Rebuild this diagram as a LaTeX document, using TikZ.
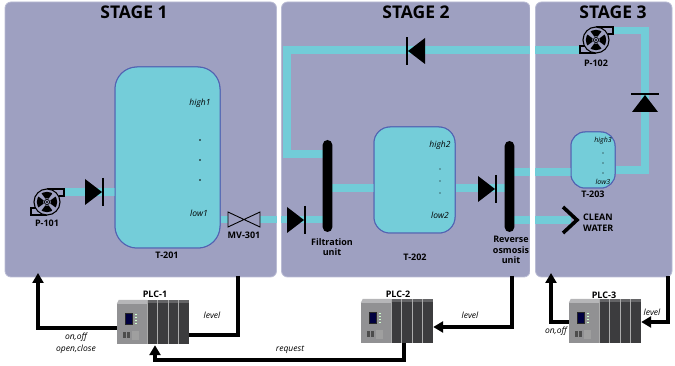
\documentclass[tikz,border=0pt]{standalone}
\usepackage{fontspec}
\setmainfont{Open Sans}
\usetikzlibrary{arrows.meta,calc}

\definecolor{panel}{RGB}{158,160,193}
\definecolor{panelrim}{RGB}{186,188,212}
\definecolor{pipec}{RGB}{114,204,216}
\definecolor{tankfill}{RGB}{116,205,217}
\definecolor{tankrim}{RGB}{82,98,178}
\definecolor{plclight}{RGB}{145,145,147}
\definecolor{plctop}{RGB}{182,182,184}
\definecolor{plcdark}{RGB}{60,60,62}
\definecolor{plcdarktop}{RGB}{100,100,102}

\tikzset{
  stagebox/.style={fill=panel, draw=panelrim, line width=0.8, rounded corners=6},
  pipe/.style={draw=pipec, line width=7.5},
  tank/.style={draw=tankrim, fill=tankfill, line width=1, inner sep=0},
  membrane/.style={fill=black, rounded corners=4.8, minimum width=9.6, inner sep=0},
  sig/.style={line width=3.6, black, -{Triangle[length=10,width=11]}},
  sigplain/.style={line width=3.6, black},
  tag/.style={font=\bfseries\fontsize{9}{10.5}\selectfont, inner sep=0, align=center},
  lvl/.style={font=\itshape\fontsize{8.5}{12}\selectfont, inner sep=0, align=center},
  small/.style={font=\itshape\fontsize{7}{8}\selectfont, inner sep=0},
  head/.style={font=\bfseries\fontsize{17.5}{19}\selectfont, inner sep=0},
  plcbox/.style={minimum width=72, minimum height=44, inner sep=0},
  % check valve: flow along +x, bar on the downstream side
  checkv/.pic={
    \fill[black] (-9,-13) -- (-9,13) -- (8,0) -- cycle;
    \draw[black, line width=2] (9,-14) -- (9,14);
  },
  % centrifugal pump: outlet top right, base bottom left
  pump/.pic={
    \draw[black, line width=1.1, fill=panel] (0,-13) -- (17,-13) -- (17,-6) -- (11.5,-6);
    \draw[black, line width=1.1, fill=panel] (-11.5,6) -- (-16,6) -- (-16,13) -- (0,13);
    \draw[black, line width=1.1, fill=panel] (0,0) circle (13);
    \begin{scope}
      \clip (0,0) circle (10.2);
      \foreach \a in {0,90,180,270}
        \fill[black] (\a-18:2.5) -- (\a-34:14) -- (\a+34:14) -- (\a+18:2.5) -- cycle;
    \end{scope}
    \fill[panel] (0,0) circle (3.8);
    \draw[black, line width=0.8] (0,0) circle (2.6);
    \fill[black] (0,0) circle (1.1);
  },
  % PLC rack: origin at the top left corner
  plc/.pic={
    \fill[plclight] (0,4) rectangle (30,44);
    \fill[plctop] (2,0) -- (30,0) -- (30,4) -- (0,4) -- cycle;
    \fill[black!85] (8,13) rectangle (16,25);
    \fill[blue!25!black] (9,14) rectangle (15,24);
    \foreach \yy in {14,17,20,23}
      \fill[green!20!white] (18.5,\yy) rectangle (20.5,\yy+1.5);
    \fill[black!70] (6,32) rectangle (9,38);
    \fill[black!70] (10,32) rectangle (13,38);
    \fill[gray!75] (15,31) rectangle (22,40);
    \foreach \i in {0,...,3} {
      \fill[plcdark] (30+\i*10.5,3) rectangle (40.5+\i*10.5,44);
      \fill[plcdarktop] (30+\i*10.5,0) rectangle (40.5+\i*10.5,3);
      \draw[gray!65, line width=0.6] (30+\i*10.5,0) -- (30+\i*10.5,44);
    }
  }
}

\begin{document}
\begin{tikzpicture}[x=1pt, y=-1pt]
\useasboundingbox (0,0) rectangle (675,366);

% stage panels
\draw[stagebox] (5,2) rectangle (276.5,277);
\draw[stagebox] (281.5,2) rectangle (530,277);
\draw[stagebox] (535.5,2) rectangle (672,277);
\node[head] (h1) at (134,12.5) {STAGE 1};
\node[head] (h2) at (416,12.5) {STAGE 2};
\node[head] (h3) at (613,12.5) {STAGE 3};

% equipment anchors
\node[tank, rounded corners=22, minimum width=105, minimum height=181] (T201) at (167.5,157.5) {};
\node[tank, rounded corners=16, minimum width=81, minimum height=106] (T202) at (414.5,180) {};
\node[tank, rounded corners=14, minimum width=44, minimum height=56] (T203) at (593,160) {};
\coordinate (P101) at (47,202);
\coordinate (P101out) at (63,192);
\coordinate (P102) at (596,40);
\coordinate (P102out) at (612,30.5);
\coordinate (P102in) at (581,50);
\coordinate (MV301) at (244,219.5);
\coordinate (loopTop) at (287,50);
\coordinate (loopBot) at (287,154);
\coordinate (riser) at (645,30.5);
\coordinate (clean) at (571,220);

% piping (drawn below the tanks and units)
\draw[pipe] (P101out) -- (P101out -| T201.west);
\draw[pipe] (MV301 -| T201.east) -- ($(MV301)+(-16,0)$);
\draw[pipe] ($(MV301)+(16,0)$) -- (328,219.5);
\draw[pipe] (328,188) -- (T202.west |- 0,188);
\draw[pipe] (T202.east |- 0,188) -- (509,188);
\draw[pipe] (509,172) -- (T203.west |- 0,172);
\draw[pipe] (509,220) -- (clean);
\draw[pipe] (T203.east |- 0,170) -- (riser |- 0,170) -- (riser) -- (P102out);
\draw[pipe] (P102in) -- (loopTop) -- (loopBot) -- (328,154);

% panel gaps cut the pipes
\fill[white] (276.9,0) rectangle (281.1,279);
\fill[white] (530.4,0) rectangle (535.1,279);

% tanks on top of the pipe ends
\node[tank, rounded corners=22, minimum width=105, minimum height=181] at (T201) {};
\node[tank, rounded corners=16, minimum width=81, minimum height=106] at (T202) {};
\node[tank, rounded corners=14, minimum width=44, minimum height=56] at (T203) {};

% filtration and reverse osmosis membranes
\node[membrane, minimum height=92] (Filt) at (327.5,186) {};
\node[membrane, minimum height=91] (RO) at (509.5,186.5) {};

% pumps
\pic at (P101) {pump};
\pic at (P102) {pump};

% check valves
\pic at (94,192) {checkv};
\pic at (296,220) {checkv};
\pic[rotate=180] at (416,51) {checkv};
\pic at (487,189) {checkv};
\pic[rotate=90] at (645,103) {checkv};

% motorised valve MV-301
\draw[black, line width=0.9, fill=panel] ($(MV301)+(-16,-7.5)$) -- ($(MV301)+(-16,7.5)$) -- ($(MV301)+(16,-7.5)$) -- ($(MV301)+(16,7.5)$) -- cycle;

% clean water outlet
\draw[black, line width=3.6] (563,207) -- (577,220) -- (563,233);

% level marks
\node[lvl] (hi1) at (200,103) {high1};
\foreach \yy in {140,160,180} \fill[black] (200,\yy) circle (0.9);
\node[lvl] (lo1) at (199,213) {low1};
\node[lvl] (hi2) at (440,145) {high2};
\foreach \yy in {169,181,193} \fill[black] (440,\yy) circle (0.7);
\node[lvl] (lo2) at (440,215) {low2};
\node[small] (hi3) at (603,141) {high3};
\foreach \yy in {153,163,173} \fill[black] (603,\yy) circle (0.6);
\node[small] (lo3) at (603,182) {low3};

% equipment tags
\node[tag] (tP101) at (47,223) {P-101};
\node[tag] (tT201) at (167,255) {T-201};
\node[tag] (tMV) at (244,235) {MV-301};
\node[tag] (tFilt) at (332,247) {Filtration\\unit};
\node[tag] (tT202) at (415,257) {T-202};
\node[tag] (tRO) at (511,250) {Reverse\\osmosis\\unit};
\node[tag] (tT203) at (593,194) {T-203};
\node[tag] (tP102) at (596,63) {P-102};
\node[tag, align=left, anchor=west] (tClean) at (583,222.5) {CLEAN\\WATER};

% PLCs
\node[plcbox] (PLC1) at (153,322) {};
\node[plcbox] (PLC2) at (397,321) {};
\node[plcbox] (PLC3) at (605,321) {};
\pic at (PLC1.north west) {plc};
\pic at (PLC2.north west) {plc};
\pic at (PLC3.north west) {plc};
\node[tag] (tPLC1) at (155,294) {PLC-1};
\node[tag] (tPLC2) at (398,294) {PLC-2};
\node[tag] (tPLC3) at (604,295) {PLC-3};

% control signals
\coordinate (s1cmd) at (38,273);
\coordinate (s1lev) at (238,276);
\coordinate (s2lev) at (512,276);
\coordinate (s3lev) at (668,276);
\coordinate (s3cmd) at (551,273);
\draw[sig] ($(PLC1.west)+(0,6)$) -| (s1cmd);
\draw[sigplain] (s1lev) |- ($(PLC1.east)+(0,13)$);
\draw[sig] (s2lev) |- ($(PLC2.east)+(0,6)$);
\draw[sig] ($(PLC2.south)+(7,0)$) -- ++(0,17) -| ($(PLC1.south)+(2,1)$);
\draw[sig] (s3lev) |- ($(PLC3.east)+(0,1)$);
\draw[sig] ($(PLC3.west)+(0,1)$) -| (s3cmd);

\node[lvl] (lvl1) at (212,315) {level};
\node[lvl] (cmd1) at (76,343) {on,off\\open,close};
\node[lvl] (req) at (290,350) {request};
\node[lvl] (lvl2) at (470,315) {level};
\node[lvl] (lvl3) at (652,312) {level};
\node[lvl] (cmd3) at (556,331) {on,off};
\end{tikzpicture}
\end{document}
